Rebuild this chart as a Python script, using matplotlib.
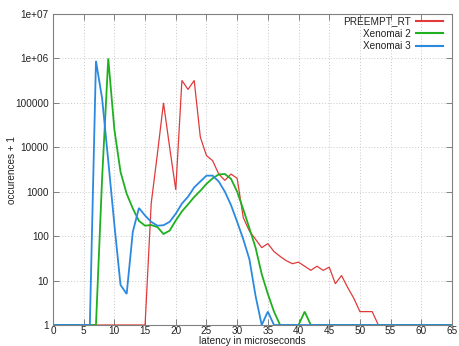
import matplotlib
matplotlib.use("Agg")
import matplotlib.pyplot as plt
import numpy as np
from matplotlib.ticker import FixedLocator, FixedFormatter, NullLocator

latency = list(range(0, 66))

# occurrences + 1 per latency bin
preempt_rt = ([1] * 16 +
              [550, 7000, 100000, 10000, 1100, 320000, 200000, 320000, 17000, 6500,
               5000, 2500, 1800, 2500, 2000, 260, 130, 85, 55, 68,
               45, 35, 28, 24, 26, 21, 17, 21, 17, 20,
               8.5, 13, 7, 4, 2, 2, 2] + [1] * 13)
xenomai2 = ([1] * 8 +
            [2000, 1000000, 25000, 2800, 900, 420, 220, 172, 178, 160,
             112, 133, 225, 360, 520, 760, 1050, 1500, 2000, 2450,
             2500, 1950, 1000, 400, 150, 55, 14, 5, 2] + [1] * 4 +
            [2] + [1] * 24)
xenomai3 = ([1] * 7 +
            [880000, 125000, 5000, 180, 8, 5, 125, 430, 290,
             210, 172, 176, 210, 320, 540, 770, 1250, 1700, 2300,
             2300, 1700, 1000, 500, 210, 85, 30, 4.5, 1, 2] + [1] * 30)

series_names = ["PREEMPT_RT", "Xenomai 2", "Xenomai 3"]
series_colors = ["#e03a3a", "#1fb01f", "#2a8ae0"]
series_widths = [0.9, 1.3, 1.3]

y_ticks = [1, 10, 100, 1000, 10000, 100000, 1000000, 10000000]
y_tick_labels = ["1", "10", "100", "1000", "10000", "100000", "1e+06", "1e+07"]
x_ticks = list(range(0, 66, 5))

plt.rcParams['font.family'] = ['Liberation Sans', 'DejaVu Sans']

fig = plt.figure(figsize=(4.59, 3.46), dpi=100)
ax = fig.add_axes([53 / 459, 1 - 325 / 346, (452 - 53) / 459, (325 - 14) / 346])

for vals, name, col, lw in zip([preempt_rt, xenomai2, xenomai3],
                               series_names, series_colors, series_widths):
    ax.plot(latency, vals, color=col, lw=lw, label=name, solid_joinstyle='miter')

ax.set_yscale('log')
ax.set_xlim(0, 65)
ax.set_ylim(1, 1e7)
ax.yaxis.set_major_locator(FixedLocator(y_ticks))
ax.yaxis.set_major_formatter(FixedFormatter(y_tick_labels))
ax.yaxis.set_minor_locator(NullLocator())
ax.set_xticks(x_ticks)

ax.grid(True, color="#c8c8c8", linestyle=(0, (1, 2)), lw=0.7)
for s in ax.spines.values():
    s.set_color("#808080")
    s.set_linewidth(0.8)
ax.tick_params(direction='in', length=4, width=0.7, color="#808080",
               labelsize=7.2, labelcolor="#222222", top=True, right=True)
ax.tick_params(axis='x', pad=0.5)
ax.tick_params(axis='y', pad=3)

ax.set_xlabel("latency in microseconds", fontsize=7.2, color="#222222")
ax.xaxis.set_label_coords(0.5, -0.036)
ax.set_ylabel("occurences + 1", fontsize=7.2, color="#222222")
ax.yaxis.set_label_coords(-0.09, 0.5)

leg = ax.legend(loc='upper right', frameon=False, markerfirst=False, fontsize=7.2,
                handlelength=2.7, handletextpad=0.5, labelspacing=0.25,
                borderaxespad=0.3, bbox_to_anchor=(0.995, 1.016))
for t in leg.get_texts():
    t.set_ha('right')
    t.set_color("#222222")
for h in leg.legend_handles:
    h.set_linewidth(1.5)

fig.savefig("out.png", dpi=100)
